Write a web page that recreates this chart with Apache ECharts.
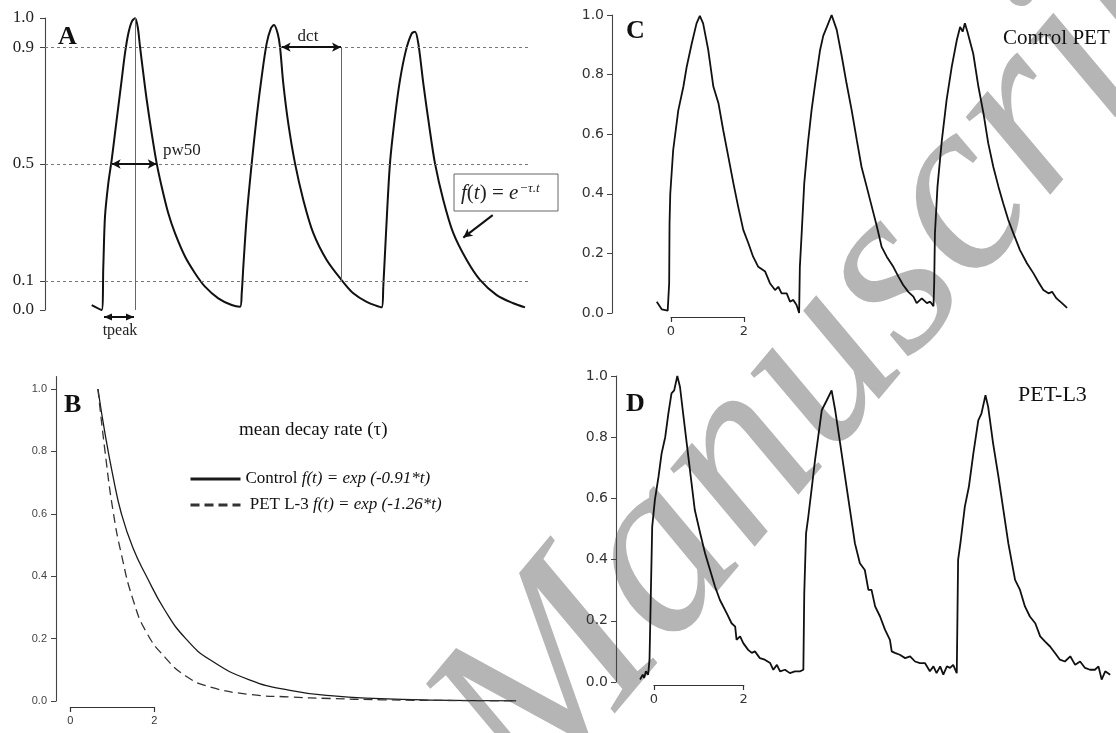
<!DOCTYPE html>
<html>
<head>
<meta charset="utf-8">
<script src="https://cdn.jsdelivr.net/npm/echarts@6/dist/echarts.min.js"></script>
<style>
  html, body { margin: 0; padding: 0; background: #fff; }
  #main { width: 1116px; height: 733px; }
</style>
</head>
<body>
<div id="main"></div>
<script>
// panel A - idealised transients (arbitrary time units)
const aTime = [0.963,1.169,1.202,1.237,1.305,1.375,1.443,1.511,1.581,1.649,1.718,1.788,1.856,1.911,1.959,2.027,2.097,2.2,2.303,2.406,2.542,2.68,2.887,3.093,3.299,3.573,3.849,4.021,4.056,4.089,4.159,4.262,4.365,4.468,4.571,4.66,4.722,4.798,4.845,4.913,5.016,5.155,5.326,5.532,5.808,6.103,6.357,6.633,6.942,6.975,7.031,7.113,7.216,7.32,7.443,7.561,7.629,7.697,7.8,7.924,8.041,8.212,8.419,8.695,8.969,9.313,9.656,9.897];
const aSignal = [0.017,0,0.148,0.32,0.434,0.514,0.605,0.696,0.788,0.879,0.947,0.987,0.999,0.97,0.902,0.81,0.72,0.605,0.502,0.422,0.331,0.263,0.183,0.126,0.08,0.04,0.017,0.011,0.057,0.148,0.32,0.502,0.662,0.799,0.913,0.965,0.976,0.947,0.902,0.776,0.639,0.502,0.377,0.263,0.171,0.105,0.057,0.028,0.009,0.08,0.263,0.502,0.662,0.788,0.89,0.947,0.953,0.913,0.776,0.628,0.502,0.377,0.263,0.171,0.103,0.051,0.023,0.009];
const aTicks = [0, 0.1, 0.5, 0.9, 1.0];
const aLevels = [0.9, 0.5, 0.1];
const peakTime = 1.856;
const pw50Span = [1.375, 2.303];
const dctSpan = [4.88, 6.103];
const tpeakSpan = [1.216, 1.835];
const tpeakLevel = -0.024;
const fitPointer = [[9.231, 0.325], [8.625, 0.248]];

// panel B - mean decay curves (s)
const bTime = [0.655,0.824,1.014,1.214,1.49,1.81,2.252,2.745,3.324,4.276,5.229,6.181,7.371,8.562,10.61];
const bControl = [1.0,0.857,0.72,0.6,0.49,0.40,0.29,0.20,0.132,0.067,0.034,0.017,0.0075,0.003,0.0007];
const bPet = [1.0,0.80,0.61,0.47,0.325,0.22,0.14,0.08,0.045,0.021,0.013,0.008,0.004,0.002,0.0005];
const bTicks = [0, 0.2, 0.4, 0.6, 0.8, 1.0];

// panel C - Control PET recording (s)
const cTime = [-0.39,-0.25,-0.09,-0.05,-0.04,-0.02,0.06,0.20,0.34,0.43,0.57,0.70,0.79,0.88,1.02,1.16,1.30,1.43,1.57,1.71,1.84,1.98,2.12,2.25,2.39,2.58,2.71,2.85,2.94,3.03,3.17,3.26,3.35,3.44,3.51,3.53,3.58,3.65,3.75,3.85,3.95,4.08,4.17,4.27,4.40,4.54,4.68,4.81,4.95,5.09,5.22,5.36,5.50,5.64,5.77,5.91,6.09,6.23,6.36,6.50,6.64,6.73,6.87,7.01,7.10,7.19,7.21,7.23,7.30,7.42,7.55,7.69,7.83,7.92,7.99,8.05,8.12,8.17,8.28,8.42,8.56,8.69,8.83,8.97,9.10,9.24,9.38,9.56,9.75,9.93,10.06,10.20,10.34,10.44,10.56,10.71,10.85];
const cSignal = [0.038,0.012,0.008,0.10,0.30,0.40,0.547,0.68,0.76,0.826,0.905,0.972,0.997,0.972,0.883,0.76,0.704,0.614,0.525,0.435,0.357,0.279,0.234,0.189,0.155,0.139,0.10,0.077,0.088,0.066,0.066,0.038,0.044,0.027,0.0,0.155,0.268,0.435,0.569,0.68,0.77,0.88,0.93,0.96,1.0,0.95,0.86,0.77,0.68,0.58,0.49,0.424,0.357,0.29,0.222,0.189,0.155,0.122,0.094,0.071,0.055,0.033,0.049,0.033,0.038,0.023,0.10,0.267,0.424,0.58,0.715,0.826,0.916,0.96,0.944,0.972,0.944,0.95,0.87,0.76,0.67,0.57,0.49,0.424,0.368,0.312,0.267,0.211,0.167,0.133,0.105,0.077,0.066,0.071,0.049,0.033,0.017];

// panel D - PET-L3 recording (s)
const dTime = [-0.31,-0.25,-0.22,-0.18,-0.13,-0.10,-0.07,-0.04,0.02,0.10,0.17,0.25,0.32,0.39,0.45,0.47,0.52,0.58,0.65,0.73,0.82,0.91,1.03,1.14,1.25,1.36,1.47,1.62,1.73,1.81,1.84,1.92,1.99,2.10,2.18,2.25,2.36,2.47,2.59,2.66,2.74,2.81,2.92,3.03,3.14,3.26,3.33,3.35,3.39,3.44,3.52,3.59,3.66,3.74,3.85,3.96,4.04,4.15,4.26,4.37,4.48,4.59,4.70,4.78,4.85,4.93,5.04,5.15,5.26,5.30,5.37,5.48,5.60,5.71,5.82,5.93,6.04,6.15,6.23,6.30,6.38,6.45,6.53,6.60,6.67,6.75,6.78,6.84,6.93,7.02,7.12,7.23,7.30,7.39,7.45,7.56,7.68,7.79,7.90,8.05,8.16,8.27,8.38,8.50,8.61,8.72,8.83,8.94,9.05,9.16,9.28,9.39,9.50,9.61,9.72,9.83,9.91,9.98,10.06,10.17];
const dSignal = [0.008,0.024,0.013,0.035,0.024,0.073,0.29,0.507,0.595,0.67,0.747,0.80,0.877,0.943,0.953,0.948,1.0,0.964,0.877,0.78,0.67,0.562,0.486,0.42,0.366,0.312,0.268,0.225,0.192,0.181,0.138,0.149,0.127,0.105,0.095,0.10,0.078,0.073,0.062,0.04,0.056,0.035,0.04,0.029,0.035,0.035,0.04,0.29,0.486,0.54,0.638,0.725,0.80,0.888,0.92,0.953,0.888,0.78,0.67,0.562,0.453,0.388,0.366,0.301,0.301,0.247,0.214,0.171,0.138,0.10,0.095,0.089,0.078,0.084,0.067,0.062,0.062,0.035,0.051,0.029,0.051,0.024,0.051,0.046,0.056,0.029,0.399,0.464,0.573,0.638,0.747,0.855,0.877,0.937,0.899,0.78,0.67,0.562,0.453,0.334,0.301,0.247,0.214,0.192,0.149,0.132,0.116,0.095,0.073,0.067,0.084,0.056,0.067,0.046,0.04,0.04,0.051,0.008,0.035,0.024];

const cdTicks = [0, 0.2, 0.4, 0.6, 0.8, 1.0];

const zip = (xs, ys) => xs.map((x, i) => [x, ys[i]]);
const serif = '"Liberation Serif", "Times New Roman", serif';
const fmt1 = v => Number(v).toFixed(1);

function scaleBar(grid, family, size) {
  return {
    type: 'value', gridIndex: grid, min: 0, max: 2, interval: 2,
    axisLine: { onZero: false, lineStyle: { color: '#333', width: 1.2 } },
    axisTick: { length: 5, lineStyle: { color: '#333', width: 1.2 } },
    axisLabel: { margin: 8, fontFamily: family, fontSize: size, color: '#333' },
    splitLine: { show: false }
  };
}
function valueAxis(grid, max, ticks, family, size, color, margin) {
  return {
    type: 'value', gridIndex: grid, min: 0, max: max,
    axisLine: { show: true, onZero: false, lineStyle: { color: '#444', width: 1.1 } },
    axisTick: { show: true, customValues: ticks, length: 5, lineStyle: { color: '#444' } },
    axisLabel: { customValues: ticks, formatter: fmt1, fontFamily: family, fontSize: size, color: color, margin: margin },
    splitLine: { show: false }
  };
}

const arrowEnd = { symbol: 'arrow', symbolSize: [7, 9] };
const arrowLine = { type: 'solid', color: '#111', width: 2 };
const thinLine = { type: 'solid', color: '#666', width: 1 };

const chart = echarts.init(document.getElementById('main'));
chart.setOption({
  animation: false,
  backgroundColor: '#fff',
  grid: [
    { left: 45, top: 18, width: 485, height: 292 },
    { left: 56, top: 376.5, width: 474, height: 324.5 },
    { left: 70.4, top: 697, width: 84, height: 10 },
    { left: 612, top: 15, width: 504, height: 298 },
    { left: 671, top: 307, width: 73, height: 10 },
    { left: 616, top: 376, width: 500, height: 306 },
    { left: 654, top: 675, width: 89.7, height: 10 }
  ],
  xAxis: [
    { type: 'value', gridIndex: 0, min: 0, max: 10, show: false },
    { type: 'value', gridIndex: 1, min: -0.343, max: 10.94, show: false },
    scaleBar(2, '"Liberation Sans", Arial, sans-serif', 11),
    { type: 'value', gridIndex: 3, min: -1.616, max: 12.19, show: false },
    scaleBar(4, '"DejaVu Sans", sans-serif', 13),
    { type: 'value', gridIndex: 5, min: -0.847, max: 10.30, show: false },
    scaleBar(6, '"DejaVu Sans", sans-serif', 13)
  ],
  yAxis: [
    valueAxis(0, 1, aTicks, serif, 17, '#222', 11),
    valueAxis(1, 1.04, bTicks, '"Liberation Sans", Arial, sans-serif', 11, '#444', 9),
    { type: 'value', gridIndex: 2, show: false },
    valueAxis(3, 1, cdTicks, '"DejaVu Sans", sans-serif', 14, '#333', 8),
    { type: 'value', gridIndex: 4, show: false },
    valueAxis(5, 1, cdTicks, '"DejaVu Sans", sans-serif', 14, '#333', 8),
    { type: 'value', gridIndex: 6, show: false }
  ],
  legend: {
    data: ['Control', 'PET L-3'],
    orient: 'vertical', left: 184, top: 464,
    itemWidth: 50, itemHeight: 14, itemGap: 6,
    selectedMode: false,
    itemStyle: { opacity: 0 },
    lineStyle: { width: 3 },
    formatter: name => name === 'Control'
      ? '{n|Control }{i|f(t) = exp (-0.91*t)}'
      : '{n| PET L-3 }{i|f(t) = exp (-1.26*t)}',
    textStyle: {
      lineHeight: 20,
      rich: {
        n: { fontFamily: serif, fontSize: 17, color: '#111' },
        i: { fontFamily: serif, fontSize: 17, fontStyle: 'italic', color: '#111' }
      }
    }
  },
  series: [
    {
      type: 'line', xAxisIndex: 0, yAxisIndex: 0,
      data: zip(aTime, aSignal), symbol: 'none', smooth: 0.3,
      lineStyle: { color: '#111', width: 2 },
      markLine: {
        silent: true, symbol: 'none', animation: false,
        label: { show: false },
        lineStyle: { color: '#777', type: [3, 3], width: 1 },
        data: [
          ...aLevels.map(v => ({ yAxis: v })),
          [{ coord: [peakTime, 0], lineStyle: thinLine }, { coord: [peakTime, 1] }],
          [{ coord: [dctSpan[1], 0.1], lineStyle: thinLine }, { coord: [dctSpan[1], 0.9] }],
          [{ coord: [pw50Span[0], 0.5], lineStyle: arrowLine, ...arrowEnd }, { coord: [pw50Span[1], 0.5], ...arrowEnd }],
          [{ coord: [dctSpan[0], 0.9], lineStyle: arrowLine, ...arrowEnd }, { coord: [dctSpan[1], 0.9], ...arrowEnd }],
          [{ coord: fitPointer[0], lineStyle: arrowLine }, { coord: fitPointer[1], ...arrowEnd }]
        ]
      }
    },
    {
      name: 'Control', type: 'line', xAxisIndex: 1, yAxisIndex: 1, color: '#1a1a1a',
      data: zip(bTime, bControl), symbol: 'none', smooth: true,
      lineStyle: { color: '#1a1a1a', width: 1.3 }
    },
    {
      name: 'PET L-3', type: 'line', xAxisIndex: 1, yAxisIndex: 1, color: '#333',
      data: zip(bTime, bPet), symbol: 'none', smooth: true,
      lineStyle: { color: '#333', width: 1.3, type: [9, 5] }
    },
    {
      type: 'line', xAxisIndex: 3, yAxisIndex: 3,
      data: zip(cTime, cSignal), symbol: 'none',
      lineStyle: { color: '#111', width: 1.8 }
    },
    {
      type: 'line', xAxisIndex: 5, yAxisIndex: 5,
      data: zip(dTime, dSignal), symbol: 'none',
      lineStyle: { color: '#111', width: 1.8 }
    }
  ]
});

// tpeak arrow sits just under the zero line, outside the grid, so draw it from converted coordinates
function arrowShape(p, q, both) {
  const dx = q[0] - p[0], dy = q[1] - p[1];
  const len = Math.hypot(dx, dy), ux = dx / len, uy = dy / len;
  const head = (tip, s) => {
    const bx = tip[0] - s * 8 * ux, by = tip[1] - s * 8 * uy;
    return { type: 'polygon', shape: { points: [tip, [bx - uy * 3.5, by + ux * 3.5], [bx + uy * 3.5, by - ux * 3.5]] }, style: { fill: '#111' } };
  };
  const els = [{ type: 'line', shape: { x1: p[0], y1: p[1], x2: q[0], y2: q[1] }, style: { stroke: '#111', lineWidth: 2 } }, head(q, 1)];
  if (both) els.push(head(p, -1));
  return els;
}
const tp0 = chart.convertToPixel({ gridIndex: 0 }, [tpeakSpan[0], tpeakLevel]);
const tp1 = chart.convertToPixel({ gridIndex: 0 }, [tpeakSpan[1], tpeakLevel]);

const vc = { verticalAlign: 'middle', textVerticalAlign: 'middle' };
const cc = { align: 'center', textAlign: 'center', verticalAlign: 'middle', textVerticalAlign: 'middle' };
chart.setOption({
  graphic: [
    {
      type: 'text', x: 855, y: 325, rotation: 50 * Math.PI / 180, z: -10, silent: true,
      style: Object.assign({ text: 'Manuscript', font: 'italic 250px "Liberation Serif"', fill: '#b5b5b5' }, cc)
    },
    { type: 'text', x: 58, y: 37, style: Object.assign({ text: 'A', font: 'bold 26px "Liberation Serif"', fill: '#111' }, vc) },
    { type: 'text', x: 64, y: 405, style: Object.assign({ text: 'B', font: 'bold 26px "Liberation Serif"', fill: '#111' }, vc) },
    { type: 'text', x: 626, y: 31, style: Object.assign({ text: 'C', font: 'bold 26px "Liberation Serif"', fill: '#111' }, vc) },
    { type: 'text', x: 626, y: 404, style: Object.assign({ text: 'D', font: 'bold 26px "Liberation Serif"', fill: '#111' }, vc) },
    ...arrowShape(tp0, tp1, true),
    { type: 'text', x: 120, y: 331, style: Object.assign({ text: 'tpeak', font: '16px "Liberation Serif"', fill: '#222' }, cc) },
    { type: 'text', x: 163, y: 151, style: Object.assign({ text: 'pw50', font: '17px "Liberation Serif"', fill: '#222' }, vc) },
    { type: 'text', x: 308, y: 37, style: Object.assign({ text: 'dct', font: '17px "Liberation Serif"', fill: '#222' }, cc) },
    { type: 'rect', shape: { x: 454, y: 174, width: 104, height: 37 }, style: { fill: '#fff', stroke: '#666', lineWidth: 1 } },
    {
      type: 'text', x: 461, y: 193,
      style: Object.assign({
        text: '{i|f}{n|(}{i|t}{n|) = }{i|e}{s|−τ.t}',
        rich: {
          i: { font: 'italic 21px "Liberation Serif"', fill: '#222' },
          n: { font: '21px "Liberation Serif"', fill: '#222' },
          s: { font: 'italic 13px "Liberation Serif"', fill: '#222', verticalAlign: 'top', padding: [0, 0, 0, 1] }
        }
      }, vc)
    },
    { type: 'text', x: 239, y: 430, style: Object.assign({ text: 'mean decay rate (τ)', font: '19px "Liberation Serif"', fill: '#111' }, vc) },
    { type: 'text', x: 1003, y: 38, style: Object.assign({ text: 'Control PET', font: '21px "Liberation Serif"', fill: '#111' }, vc) },
    { type: 'text', x: 1018, y: 395, style: Object.assign({ text: 'PET-L3', font: '22px "Liberation Serif"', fill: '#111' }, vc) }
  ]
});
</script>
</body>
</html>
